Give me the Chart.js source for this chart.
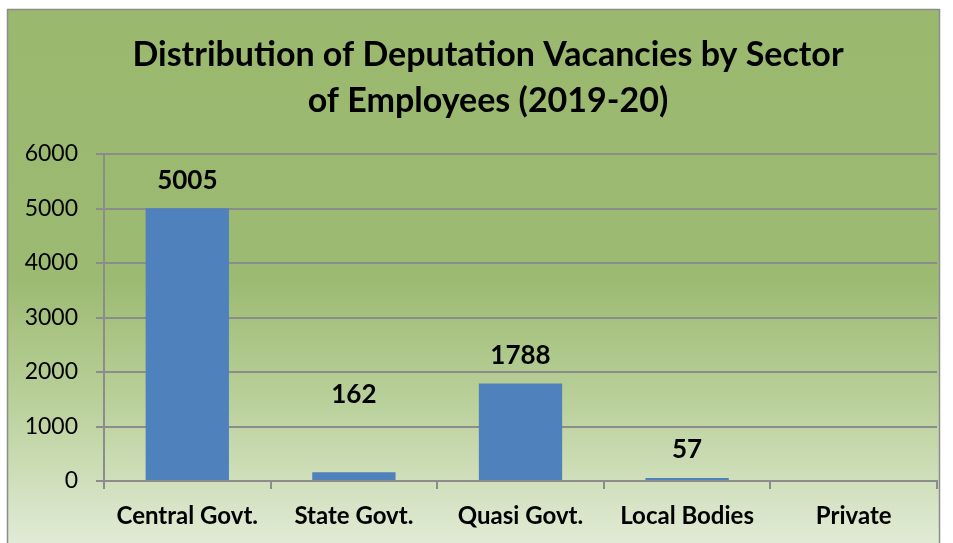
<!DOCTYPE html>
<html>
<head>
<meta charset="utf-8">
<script src="https://cdn.jsdelivr.net/npm/chart.js@4/dist/chart.umd.min.js"></script>
<style>
html,body{margin:0;padding:0;background:#fff;}
#wrap{width:953px;height:543px;position:relative;}
</style>
</head>
<body>
<div id="wrap"><canvas id="c" width="953" height="543"></canvas></div>
<script>
const categories = ["Central Govt.", "State Govt.", "Quasi Govt.", "Local Bodies", "Private"];
const vacancies = [5005, 162, 1788, 57, 0];
const yTicks = [0, 1000, 2000, 3000, 4000, 5000, 6000];
const titleLines = ["Distribution of Deputation Vacancies by Sector", "of Employees (2019-20)"];

const FONT = "Lato, 'Open Sans', sans-serif";

const bgPlugin = {
  id: 'bg',
  beforeDraw(chart) {
    const ctx = chart.ctx;
    const x0 = 7, y0 = 9, x1 = 939, y1 = 545;
    const g = ctx.createLinearGradient(0, y0, 0, y1);
    g.addColorStop(0, '#9bb86f');
    g.addColorStop(0.5, '#9cba71');
    g.addColorStop(0.75, '#bcd29e');
    g.addColorStop(1, '#e2ebd6');
    ctx.save();
    ctx.fillStyle = g;
    ctx.fillRect(x0, y0, x1 - x0, y1 - y0);
    ctx.strokeStyle = '#8c8c8c';
    ctx.lineWidth = 1.5;
    ctx.strokeRect(x0 + 0.5, y0 + 0.5, x1 - x0, y1 - y0);
    ctx.fillStyle = '#000';
    ctx.font = "bold 34px " + FONT;
    ctx.textAlign = 'center';
    ctx.textBaseline = 'middle';
    ctx.fillText(titleLines[0], 488, 55);
    ctx.fillText(titleLines[1], 488, 101);
    ctx.restore();
  }
};

const labelPlugin = {
  id: 'valueLabels',
  afterDatasetsDraw(chart, args, opts) {
    const ctx = chart.ctx;
    const meta = chart.getDatasetMeta(0);
    ctx.save();
    ctx.fillStyle = '#000';
    ctx.font = "bold 26px " + FONT;
    ctx.textAlign = 'center';
    ctx.textBaseline = 'middle';
    meta.data.forEach((bar, i) => {
      const v = chart.data.datasets[0].data[i];
      if (!v) return;
      const extra = (opts.extraLift && opts.extraLift[i]) || 0;
      ctx.fillText(String(v), bar.x, bar.y - 28 - extra);
    });
    ctx.restore();
  }
};

new Chart(document.getElementById('c'), {
  type: 'bar',
  data: {
    labels: categories,
    datasets: [{
      data: vacancies,
      backgroundColor: '#4f81bd',
      borderWidth: 0,
      barPercentage: 0.5,
      categoryPercentage: 1.0
    }]
  },
  options: {
    responsive: false,
    animation: false,
    layout: { padding: { top: 154, right: 16, bottom: 0, left: 0 } },
    plugins: {
      legend: { display: false },
      title: { display: false },
      tooltip: { enabled: false },
      valueLabels: { extraLift: [0, 50, 0, 0, 0] }
    },
    scales: {
      x: {
        grid: { display: true, drawOnChartArea: false, drawTicks: true, tickLength: 8, color: '#8c8c8c', lineWidth: 2, offset: true },
        border: { display: true, color: '#8c8c8c', width: 2 },
        ticks: { color: '#000', font: { family: FONT, size: 24, weight: 'bold' }, padding: 13, maxRotation: 0 },
        afterFit(scale) { scale.height = 62; }
      },
      y: {
        min: 0, max: 6000,
        afterBuildTicks(scale) { scale.ticks = yTicks.map(v => ({ value: v })); },
        grid: { color: '#8c8c8c', lineWidth: 2, tickLength: 8 },
        border: { display: true, color: '#8c8c8c', width: 2 },
        ticks: { color: '#000', font: { family: FONT, size: 23 }, padding: 18, callback: (v) => String(v) },
        afterFit(scale) { scale.width = 104; }
      }
    }
  },
  plugins: [bgPlugin, labelPlugin]
});
</script>
</body>
</html>
